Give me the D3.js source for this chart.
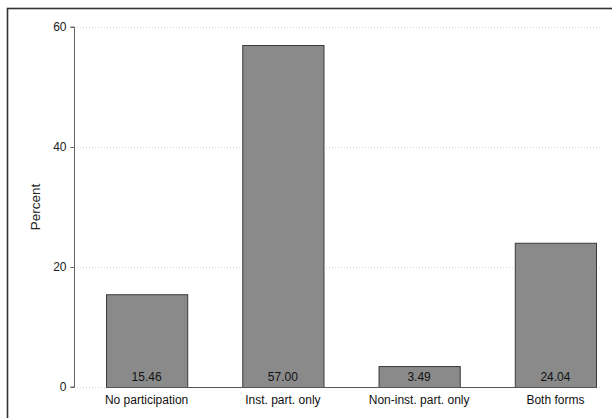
<!DOCTYPE html>
<html><head><meta charset="utf-8">
<script src="https://cdn.jsdelivr.net/npm/d3@7"></script>
<style>body{margin:0;background:#fff}svg{display:block;font-family:"Liberation Sans",Arial,sans-serif}</style>
</head><body>
<script>
const categories = ["No participation", "Inst. part. only", "Non-inst. part. only", "Both forms"];
const values = [15.46, 57.00, 3.49, 24.04];
const yTicks = [0, 20, 40, 60];
const yLabel = "Percent";

const W = 612, H = 418;
const svg = d3.select("body").append("svg").attr("width", W).attr("height", H);

// outer frame
svg.append("rect").attr("x", 7.5).attr("y", 8.5).attr("width", W).attr("height", H)
  .attr("fill", "none").attr("stroke", "#333").attr("stroke-width", 1.6);

const y = d3.scaleLinear().domain([0, 60]).range([387, 27]);
const x = d3.scaleBand().domain(categories).range([106, 596]).paddingInner(0.404).paddingOuter(0);
const axisX = 74;

// grid
svg.append("g").selectAll("line").data(yTicks).join("line")
  .attr("x1", axisX).attr("x2", 600)
  .attr("y1", d => y(d) + 0.5).attr("y2", d => y(d) + 0.5)
  .attr("stroke", "#d8d8d8").attr("stroke-width", 1).attr("stroke-dasharray", "1,2");

// y axis
const yAxis = d3.axisLeft(y).tickValues(yTicks).tickSize(4).tickPadding(4).tickFormat(d3.format("d"));
const ga = svg.append("g").attr("transform", `translate(${axisX + 0.5},0)`).call(yAxis);
ga.select(".domain").attr("stroke", "#666").attr("d", `M-4,${y(60)}H0V${y(0)}H-4`);
ga.selectAll(".tick line").attr("stroke", "#666");
ga.selectAll(".tick text").attr("fill", "#222").style("font-size", "12px").style("font-family", "Liberation Sans, Arial, sans-serif");

svg.append("text").attr("transform", `translate(40,${(y(0) + y(60)) / 2}) rotate(-90)`)
  .attr("text-anchor", "middle").attr("fill", "#222").style("font-size", "13.5px").text(yLabel);

// bars
svg.append("g").selectAll("rect").data(values).join("rect")
  .attr("x", (d, i) => x(categories[i]) + 0.5)
  .attr("y", d => y(d) + 0.5)
  .attr("width", x.bandwidth())
  .attr("height", d => y(0) - y(d))
  .attr("fill", "#8a8a8a").attr("stroke", "#3a3a3a").attr("stroke-width", 1);

// baseline
svg.append("line").attr("x1", x(categories[0])).attr("x2", x(categories[3]) + x.bandwidth() + 1)
  .attr("y1", y(0) + 0.5).attr("y2", y(0) + 0.5).attr("stroke", "#555");

// value labels
svg.append("g").selectAll("text").data(values).join("text")
  .attr("x", (d, i) => x(categories[i]) + x.bandwidth() / 2)
  .attr("y", y(0) - 6)
  .attr("text-anchor", "middle").attr("fill", "#111").style("font-size", "12px")
  .text(d => d.toFixed(2));

// category labels
svg.append("g").selectAll("text").data(categories).join("text")
  .attr("x", d => x(d) + x.bandwidth() / 2)
  .attr("y", 404)
  .attr("text-anchor", "middle").attr("fill", "#111").style("font-size", "12px")
  .text(d => d);
</script>
</body></html>
